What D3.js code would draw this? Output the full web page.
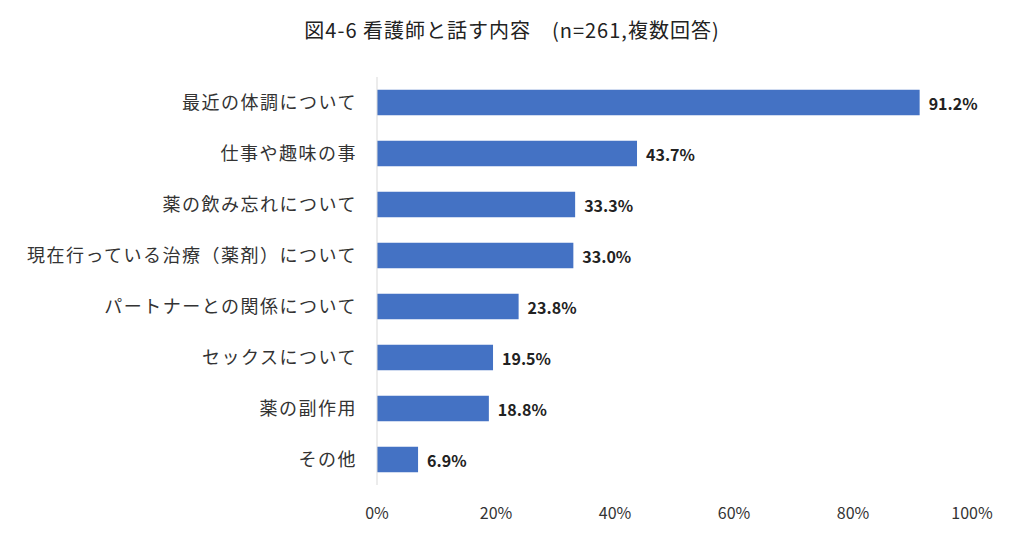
<!DOCTYPE html>
<html><head><meta charset="utf-8">
<script src="https://cdnjs.cloudflare.com/ajax/libs/d3/7.8.5/d3.min.js"></script>
<style>body{margin:0;background:#fff}</style>
</head><body>
<script>
var categories = ['最近の体調について','仕事や趣味の事','薬の飲み忘れについて','現在行っている治療（薬剤）について','パートナーとの関係について','セックスについて','薬の副作用','その他'];
var values = [91.2, 43.7, 33.3, 33.0, 23.8, 19.5, 18.8, 6.9];
var ticks = [0, 20, 40, 60, 80, 100];

var font = "'Noto Sans CJK JP', 'Noto Sans', sans-serif";
var svg = d3.select('body').append('svg')
  .attr('width', 1024).attr('height', 544)
  .attr('font-family', font);

var x = d3.scaleLinear().domain([0, 100]).range([377, 972]);
var y = d3.scaleBand().domain(categories).range([77, 485]).paddingInner(0.5).paddingOuter(0.25);

svg.append('text')
  .attr('x', 512).attr('y', 38)
  .attr('text-anchor', 'middle')
  .attr('font-size', 20).attr('letter-spacing', 1).attr('fill', '#222')
  .text('図4-6  看護師と話す内容　(n=261,複数回答)');

svg.append('g').selectAll('rect')
  .data(values)
  .enter().append('rect')
    .attr('x', x(0))
    .attr('y', function(d, i) { return y(categories[i]); })
    .attr('width', function(d) { return x(d) - x(0); })
    .attr('height', y.bandwidth())
    .attr('fill', '#4472C4');

svg.append('line')
  .attr('x1', x(0)).attr('x2', x(0))
  .attr('y1', 77).attr('y2', 485)
  .attr('stroke', '#d9d9d9');

svg.append('g').selectAll('text')
  .data(values)
  .enter().append('text')
    .attr('x', function(d) { return x(d) + 9; })
    .attr('y', function(d, i) { return y(categories[i]) + y.bandwidth() / 2 + 2; })
    .attr('dy', '0.35em')
    .attr('font-size', 16).attr('font-weight', 'bold').attr('fill', '#222')
    .text(function(d) { return d.toFixed(1) + '%'; });

svg.append('g').selectAll('text')
  .data(categories)
  .enter().append('text')
    .attr('x', x(0) - 20)
    .attr('y', function(d) { return y(d) + y.bandwidth() / 2; })
    .attr('dy', '0.35em')
    .attr('text-anchor', 'end')
    .attr('font-size', 18).attr('letter-spacing', 1.5).attr('fill', '#333')
    .text(function(d) { return d; });

svg.append('g').selectAll('text')
  .data(ticks)
  .enter().append('text')
    .attr('x', function(d) { return x(d); })
    .attr('y', 519)
    .attr('text-anchor', 'middle')
    .attr('font-size', 16).attr('fill', '#333')
    .text(function(d) { return d + '%'; });
</script>
</body></html>
